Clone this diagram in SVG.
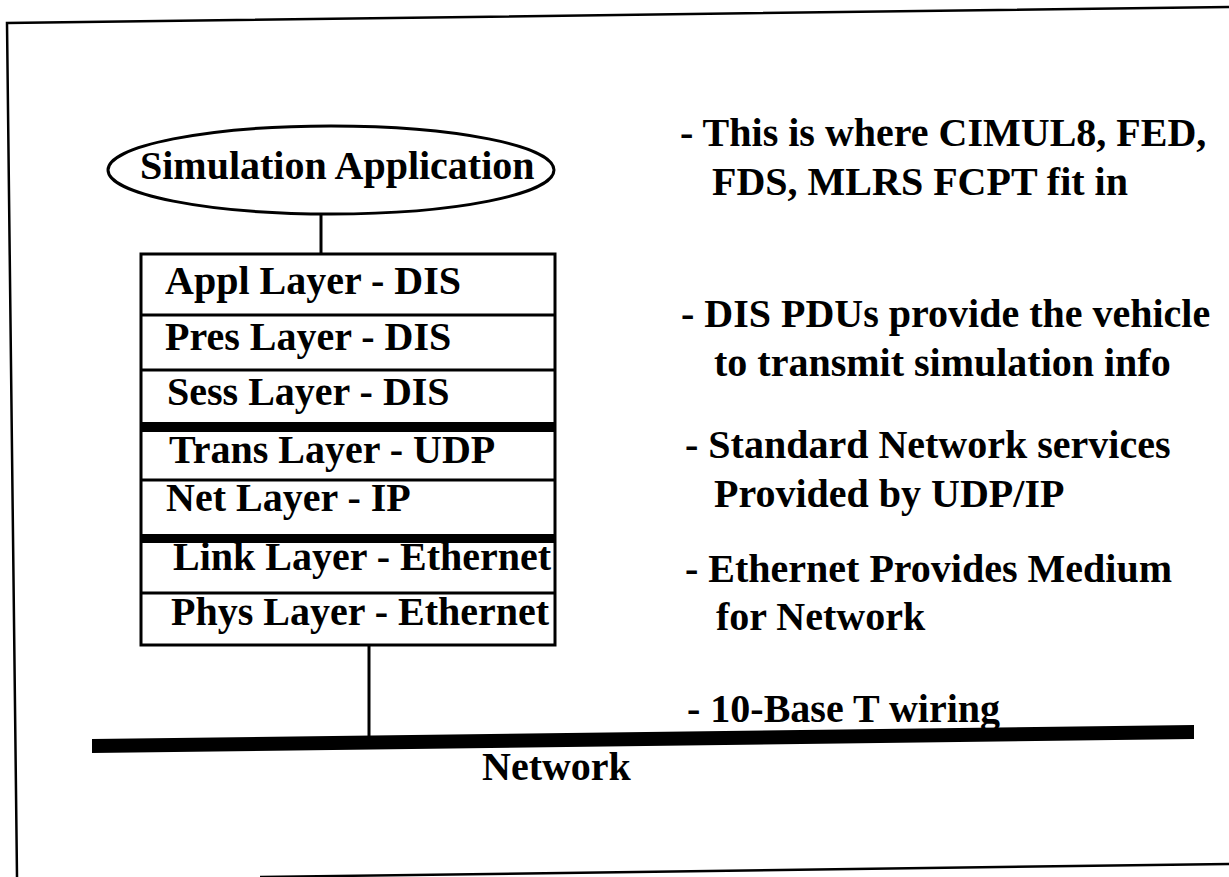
<svg xmlns="http://www.w3.org/2000/svg" width="1229" height="877" viewBox="0 0 1229 877">
  <style>
    .t { font-family: "Liberation Serif", "Times New Roman", serif; font-weight: bold; font-size: 40px; fill: #000; }
    .frame { fill: none; stroke: #000; stroke-width: 2.5; }
    .cell { fill: #fff; stroke: #000; stroke-width: 3; }
    .wire { stroke: #000; stroke-width: 3; fill: none; }
    .bar { fill: #000; }
  </style>

  <rect width="1229" height="877" fill="#fff"/>

  <!-- page frame (slightly rotated) -->
  <g id="frame">
    <polyline class="frame" points="1229,7 7,23 17,877"/>
    <line class="frame" x1="260" y1="877" x2="1229" y2="864"/>
  </g>

  <!-- connectors -->
  <g id="connectors">
    <line class="wire" x1="321" y1="213" x2="321" y2="254"/>
    <line class="wire" x1="369" y1="645" x2="369" y2="738"/>
  </g>

  <!-- application ellipse -->
  <g id="app">
    <ellipse cx="331" cy="170" rx="223" ry="44" fill="#fff" stroke="#000" stroke-width="3"/>
    <text class="t" x="140" y="179">Simulation Application</text>
  </g>

  <!-- protocol stack frame -->
  <g id="stack">
    <rect class="cell" x="141" y="254" width="414" height="391"/>
    <line class="wire" x1="141" y1="315" x2="555" y2="315"/>
    <line class="wire" x1="141" y1="370" x2="555" y2="370"/>
    <rect class="bar" x="141" y="422" width="414" height="10"/>
    <line class="wire" x1="141" y1="480" x2="555" y2="480"/>
    <rect class="bar" x="141" y="534" width="414" height="9"/>
    <line class="wire" x1="141" y1="593" x2="555" y2="593"/>
  </g>
  <g id="layer-appl"><text class="t" x="165" y="294">Appl Layer - DIS</text></g>
  <g id="layer-pres"><text class="t" x="165" y="350">Pres Layer - DIS</text></g>
  <g id="layer-sess"><text class="t" x="167" y="405">Sess Layer - DIS</text></g>
  <g id="layer-trans"><text class="t" x="169" y="463">Trans Layer - UDP</text></g>
  <g id="layer-net"><text class="t" x="166" y="511">Net Layer - IP</text></g>
  <g id="layer-link"><text class="t" x="173" y="570">Link Layer - Ethernet</text></g>
  <g id="layer-phys"><text class="t" x="171" y="625">Phys Layer - Ethernet</text></g>

  <!-- network bus -->
  <g id="network">
    <polygon class="bar" points="92,739 1194,725 1194,739 92,753"/>
    <text class="t" x="482" y="780">Network</text>
  </g>

  <!-- notes -->
  <g id="notes">
    <text class="t" x="680" y="146">- This is where CIMUL8, FED,</text>
    <text class="t" x="712" y="195">FDS, MLRS FCPT fit in</text>
    <text class="t" x="681" y="327">- DIS PDUs provide the vehicle</text>
    <text class="t" x="714" y="376">to transmit simulation info</text>
    <text class="t" x="685" y="458">- Standard Network services</text>
    <text class="t" x="714" y="507">Provided by UDP/IP</text>
    <text class="t" x="685" y="582">- Ethernet Provides Medium</text>
    <text class="t" x="716" y="630">for Network</text>
    <text class="t" x="687" y="722">- 10-Base T wiring</text>
  </g>
</svg>
